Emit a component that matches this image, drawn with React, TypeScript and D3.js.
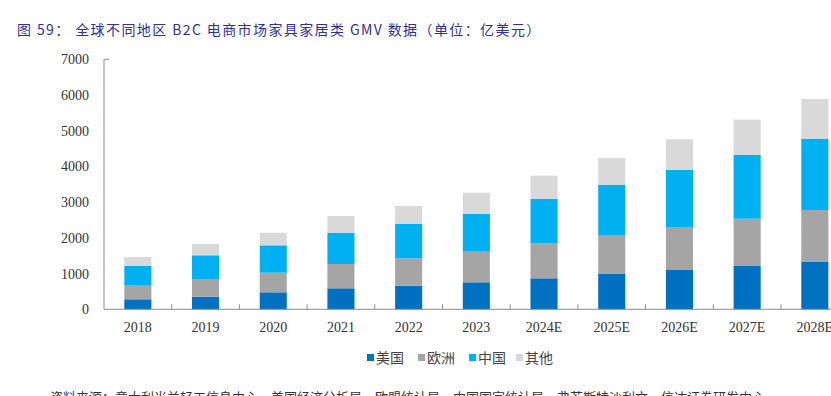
import React from 'react';
import * as d3 from 'd3';

const years = ['2018', '2019', '2020', '2021', '2022', '2023', '2024E', '2025E', '2026E', '2027E', '2028E'];
const usa = [280, 353, 476, 588, 661, 756, 868, 988, 1101, 1213, 1325];
const europe = [381, 495, 549, 681, 767, 857, 980, 1093, 1204, 1324, 1456];
const china = [552, 664, 767, 877, 961, 1064, 1241, 1408, 1596, 1784, 1997];
const other = [252, 317, 354, 467, 504, 588, 652, 748, 859, 989, 1111];
const yTicks = [0, 1000, 2000, 3000, 4000, 5000, 6000, 7000];

const seriesNames = ['美国', '欧洲', '中国', '其他'];
const colors = ['#0070C0', '#A5A5A5', '#00B0F0', '#D9D9D9'];

const W = 831;
const H = 396;

export default function App() {
  const x = d3.scaleBand<string>()
    .domain(years)
    .range([104, 104 + 67.7 * years.length])
    .paddingInner(0.6)
    .paddingOuter(0.3);
  const y = d3.scaleLinear().domain([0, 7000]).range([309.3, 59.3]);

  const rows = years.map((yr, i) => ({ year: yr, s0: usa[i], s1: europe[i], s2: china[i], s3: other[i] }));
  const stack = d3.stack<any>().keys(['s0', 's1', 's2', 's3'])(rows);

  const step = x.step();
  const left = 104;
  const serif = '"Liberation Serif", "Times New Roman", serif';
  const cjk = '"Noto Sans CJK SC", sans-serif';

  return (
    <svg width={W} height={H} style={{ position: 'absolute', left: 0, top: 0, background: '#fff' }}>
      <text x={17} y={35} fontFamily={cjk} fontSize={14} fill="#2E3192" letterSpacing={1.4}>
        图 59： 全球不同地区 B2C 电商市场家具家居类 GMV 数据（单位：亿美元）
      </text>

      {stack.map((layer, si) => (
        <g key={si} fill={colors[si]}>
          {layer.map((d, i) => (
            <rect
              key={i}
              x={x(years[i])}
              width={x.bandwidth()}
              y={y(d[1])}
              height={y(d[0]) - y(d[1])}
            />
          ))}
        </g>
      ))}

      {/* y axis */}
      <line x1={left} x2={left} y1={y(7000)} y2={y(0)} stroke="#8C8C8C" />
      <line x1={left} x2={left + 5} y1={y(7000)} y2={y(7000)} stroke="#8C8C8C" />
      {yTicks.map(t => (
        <text key={t} x={89} y={y(t) + 5} textAnchor="end" fontFamily={serif} fontSize={14} fill="#333">
          {t}
        </text>
      ))}

      {/* x axis */}
      <line x1={left} x2={W} y1={y(0)} y2={y(0)} stroke="#8C8C8C" />
      {years.map((yr, i) => (
        <line key={yr} x1={left + step * (i + 1)} x2={left + step * (i + 1)} y1={y(0)} y2={y(0) - 5} stroke="#8C8C8C" />
      ))}
      {years.map(yr => (
        <text key={yr} x={(x(yr) ?? 0) + x.bandwidth() / 2} y={332} textAnchor="middle" fontFamily={serif} fontSize={14} fill="#333">
          {yr}
        </text>
      ))}

      {/* legend */}
      {seriesNames.map((name, i) => {
        const lx = [367, 418, 469, 516][i];
        return (
          <g key={name}>
            <rect x={lx} y={354} width={7} height={7} fill={colors[i]} />
            <text x={lx + 9} y={363} fontFamily={cjk} fontSize={14} fill="#444">{name}</text>
          </g>
        );
      })}

      <text x={50} y={402} fontFamily={cjk} fontSize={13} fill="#333">
        资料来源：意大利米兰轻工信息中心，美国经济分析局，欧盟统计局，中国国家统计局，弗若斯特沙利文，信达证券研发中心
      </text>
    </svg>
  );
}
